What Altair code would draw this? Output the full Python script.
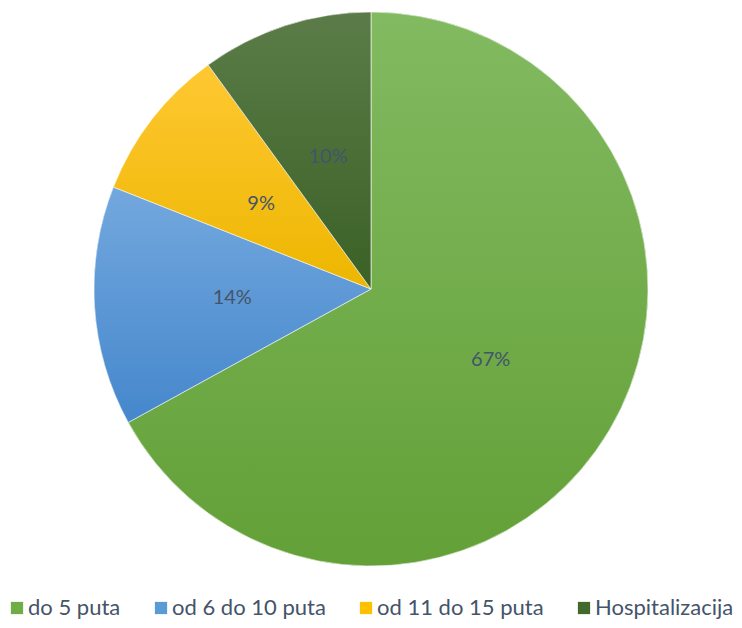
import altair as alt
import pandas as pd

categories = ["do 5 puta", "od 6 do 10 puta", "od 11 do 15 puta", "Hospitalizacija"]
values = [67, 14, 9, 10]
labels = ["67%", "14%", "9%", "10%"]
base_colors = ["#70ad47", "#5b9bd5", "#ffc000", "#43682b"]
grad_top = ["#82ba61", "#73a8de", "#ffc832", "#5b7c48"]
grad_bottom = ["#63a037", "#4587cc", "#edb600", "#3b6126"]

df = pd.DataFrame({
    "cat": categories,
    "value": values,
    "label": labels,
    "order": list(range(len(categories))),
})

FONT = "Lato"
R = 277

base = alt.Chart(df).transform_window(
    cum="sum(value)", sort=[alt.SortField("order")], frame=[None, 0]
).transform_calculate(
    start="datum.cum - datum.value", mid="datum.cum - datum.value/2"
)

theta_scale = alt.Scale(domain=[0, 100])

legend_layer = base.mark_arc(radius=R, stroke=None).encode(
    theta=alt.Theta("start:Q", scale=theta_scale),
    theta2="cum:Q",
    color=alt.Color(
        "cat:N",
        sort=categories,
        scale=alt.Scale(domain=categories, range=base_colors),
        legend=alt.Legend(
            title=None,
            orient="none",
            direction="horizontal",
            legendX=-2,
            legendY=589,
            padding=0,
            symbolType="square",
            symbolSize=150,
            symbolStrokeWidth=0,
            labelFont=FONT,
            labelFontSize=22,
            labelColor="#44546a",
            labelOffset=0,
            columnPadding=29,
            labelLimit=300,
        ),
    ),
)

layers = [legend_layer]
for i, c in enumerate(categories):
    grad = alt.LinearGradient(
        gradient="linear",
        stops=[
            alt.GradientStop(color=grad_top[i], offset=0),
            alt.GradientStop(color=grad_bottom[i], offset=1),
        ],
        x1=0, x2=0, y1=0, y2=1,
    )
    layers.append(
        base.transform_filter(alt.datum.cat == c).mark_arc(
            radius=R, color=grad, stroke="#ffffff", strokeWidth=0.6
        ).encode(
            theta=alt.Theta("start:Q", scale=theta_scale),
            theta2="cum:Q",
        )
    )

text_layer = base.mark_text(
    radius=139, font=FONT, fontSize=20, color="#44546a"
).encode(
    theta=alt.Theta("mid:Q", scale=theta_scale),
    text="label:N",
)
layers.append(text_layer)

chart = alt.layer(*layers).properties(
    width=726, height=562,
    padding={"left": 0, "top": 0, "right": 0, "bottom": 50},
    autosize=alt.AutoSizeParams(type="none"),
).configure_view(strokeWidth=0).configure(background="#ffffff")

chart.save("out.html", embed_options={"renderer": "svg", "actions": False})
